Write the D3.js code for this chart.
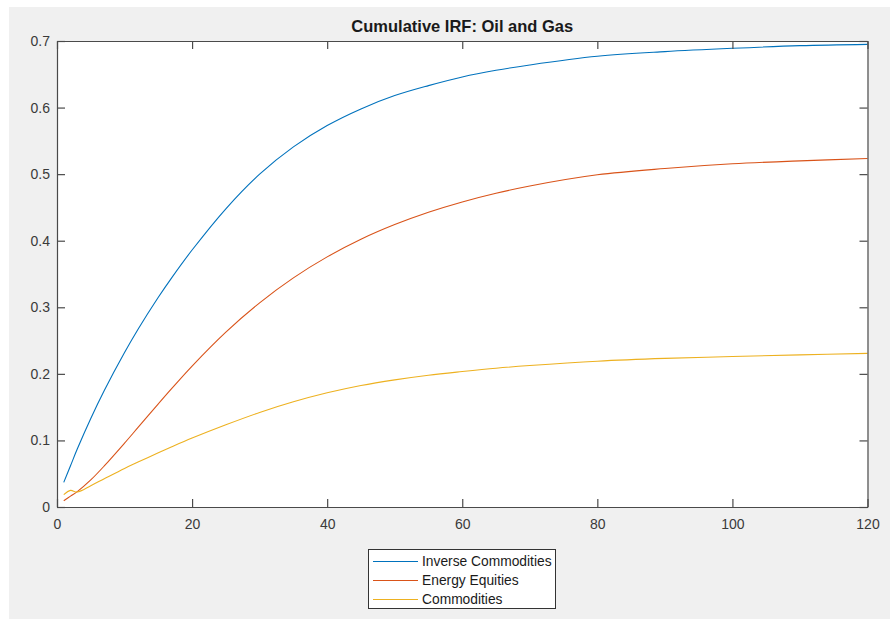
<!DOCTYPE html>
<html>
<head>
<meta charset="utf-8">
<script src="https://cdn.jsdelivr.net/npm/d3@7"></script>
<style>
  html, body { margin: 0; padding: 0; background: #ffffff; }
  svg { display: block; font-family: "Liberation Sans", Arial, Helvetica, sans-serif; }
</style>
</head>
<body>
<svg id="chart" width="890" height="619"></svg>
<script>
const title = "Cumulative IRF: Oil and Gas";
const horizons = [1, 2, 3, 5, 7, 10, 12, 15, 17, 20, 25, 30, 35, 40, 45, 50, 55, 60, 65, 70, 80, 90, 100, 110, 120];
const inverseCommodities = [0.037, 0.062, 0.087, 0.133, 0.175, 0.232, 0.267, 0.315, 0.3446, 0.386, 0.448, 0.500, 0.541, 0.573, 0.598, 0.618, 0.633, 0.646, 0.656, 0.664, 0.677, 0.684, 0.689, 0.693, 0.695];
const energyEquities = [0.0095, 0.0163, 0.0231, 0.0407, 0.0617, 0.0959, 0.1195, 0.1549, 0.1781, 0.2117, 0.2627, 0.3067, 0.3442, 0.3757, 0.4022, 0.4242, 0.4427, 0.4582, 0.4712, 0.4822, 0.499, 0.5085, 0.5155, 0.520, 0.5235];
const commodities = [0.0185, 0.0250, 0.0225, 0.032, 0.0425, 0.058, 0.0675, 0.0815, 0.0905, 0.1035, 0.1235, 0.142, 0.158, 0.1715, 0.1825, 0.1910, 0.1980, 0.2035, 0.2085, 0.2125, 0.2190, 0.2232, 0.2260, 0.2285, 0.2308];
const seriesNames = ["Inverse Commodities", "Energy Equities", "Commodities"];
const seriesColors = ["#0072BD", "#D95319", "#EDB120"];
const xTicks = [0, 20, 40, 60, 80, 100, 120];
const yTicks = [0, 0.1, 0.2, 0.3, 0.4, 0.5, 0.6, 0.7];

const svg = d3.select("#chart");
svg.append("rect").attr("x", 9).attr("y", 7).attr("width", 881).attr("height", 612).attr("fill", "#f0f0f0");

const L = 57, R = 867.5, T = 41, B = 507;
const x = d3.scaleLinear().domain([0, 120]).range([L, R]);
const y = d3.scaleLinear().domain([0, 0.7]).range([B, T]);

svg.append("rect").attr("x", L).attr("y", T).attr("width", R - L).attr("height", B - T).attr("fill", "#ffffff");

const allSeries = [inverseCommodities, energyEquities, commodities];
const line = d3.line().x(d => x(d[0])).y(d => y(d[1])).curve(d3.curveCatmullRom.alpha(0.5));
const plot = svg.append("g");
allSeries.forEach((vals, i) => {
  plot.append("path")
    .datum(horizons.map((h, j) => [h, vals[j]]))
    .attr("d", line)
    .attr("fill", "none")
    .attr("stroke", seriesColors[i])
    .attr("stroke-width", 1.1);
});

const axisColor = "#4a4a4a";
const tickLen = 8;
const gB = svg.append("g").attr("transform", `translate(0,${B})`)
  .call(d3.axisBottom(x).tickValues(xTicks).tickSizeInner(-tickLen).tickSizeOuter(0).tickPadding(12).tickFormat(d3.format("d")));
const gT = svg.append("g").attr("transform", `translate(0,${T})`)
  .call(d3.axisTop(x).tickValues(xTicks).tickSizeInner(-tickLen).tickSizeOuter(0).tickFormat(""));
const gL = svg.append("g").attr("transform", `translate(${L},0)`)
  .call(d3.axisLeft(y).tickValues(yTicks).tickSizeInner(-tickLen).tickSizeOuter(0).tickPadding(7).tickFormat(d => d === 0 ? "0" : d3.format(".1f")(d)));
const gR = svg.append("g").attr("transform", `translate(${R},0)`)
  .call(d3.axisRight(y).tickValues(yTicks).tickSizeInner(-tickLen).tickSizeOuter(0).tickFormat(""));
[gB, gT, gL, gR].forEach(g => {
  g.select(".domain").attr("stroke", axisColor).attr("stroke-width", 1.2);
  g.selectAll(".tick line").attr("stroke", axisColor).attr("stroke-width", 1.2);
  g.selectAll(".tick text").attr("fill", "#3a3a3a").attr("font-size", 14).attr("font-family", "Liberation Sans, Arial, sans-serif");
});
gB.selectAll(".tick text").attr("dy", "0.71em");

svg.append("text").attr("x", (L + R) / 2).attr("y", 32)
  .attr("text-anchor", "middle").attr("font-size", 16.5).attr("font-weight", "bold").attr("fill", "#1a1a1a")
  .text(title);

// legend
const lg = svg.append("g");
lg.append("rect").attr("x", 368.5).attr("y", 549.5).attr("width", 187).attr("height", 59)
  .attr("fill", "#ffffff").attr("stroke", "#333333").attr("stroke-width", 1);
seriesNames.forEach((n, i) => {
  const cy = 561.5 + i * 19;
  lg.append("line").attr("x1", 373).attr("x2", 418).attr("y1", cy).attr("y2", cy)
    .attr("stroke", seriesColors[i]).attr("stroke-width", 1.1);
  lg.append("text").attr("x", 422).attr("y", cy).attr("dy", "0.35em")
    .attr("font-size", 13.8).attr("fill", "#1a1a1a").text(n);
});
</script>
</body>
</html>
